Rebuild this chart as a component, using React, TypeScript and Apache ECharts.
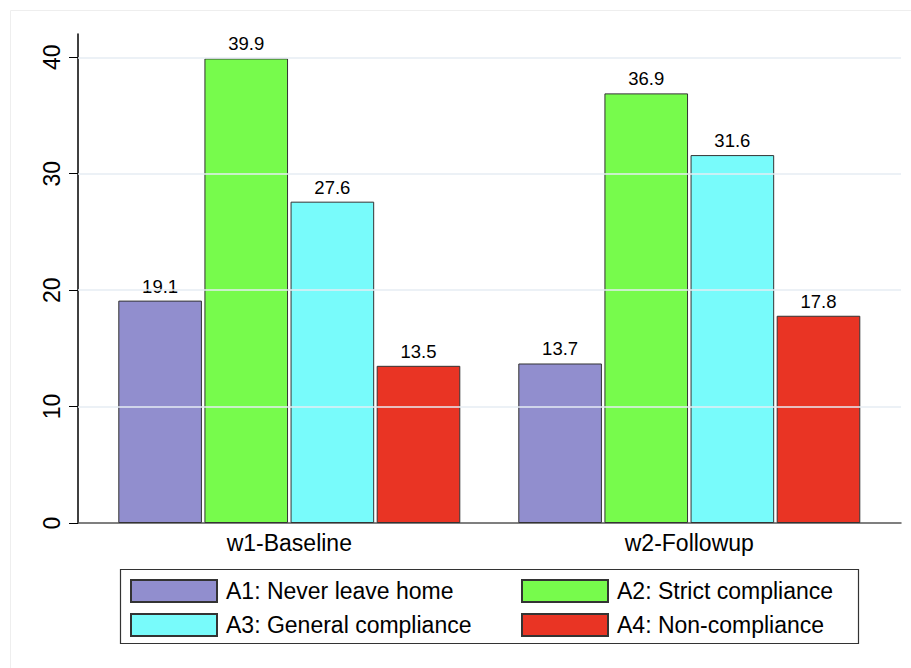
import React, { useEffect, useRef } from "react";
import * as echarts from "echarts";

const categories = ["w1-Baseline", "w2-Followup"];
const seriesNames = [
  "A1: Never leave home",
  "A2: Strict compliance",
  "A3: General compliance",
  "A4: Non-compliance",
];
const a1 = [19.1, 13.7];
const a2 = [39.9, 36.9];
const a3 = [27.6, 31.6];
const a4 = [13.5, 17.8];
const yTicks = [0, 10, 20, 30, 40];
const colors = ["#918ECE", "#77FB4C", "#78FBFB", "#E93424"];

const FONT = "'Liberation Sans', Arial, Helvetica, sans-serif";

export default function App() {
  const ref = useRef<HTMLDivElement>(null);
  useEffect(() => {
    if (!ref.current) return;
    const chart = echarts.init(ref.current, null, { renderer: "svg" });
    const values = [a1, a2, a3, a4];
    chart.setOption({
      animation: false,
      backgroundColor: "#ffffff",
      textStyle: { fontFamily: FONT },
      grid: [
        { left: 78, right: 10, top: 34, bottom: 145 },
        { left: 89.3, right: 21.7, top: 34, bottom: 145 },
      ],
      xAxis: [
        {
          type: "category",
          gridIndex: 0,
          data: [""],
          axisLine: { show: true, lineStyle: { color: "#555555", width: 1.5 } },
          axisTick: { show: false },
          axisLabel: { show: false },
          splitLine: { show: false },
        },
        {
          type: "category",
          gridIndex: 1,
          data: categories,
          axisLine: { show: false },
          axisTick: { show: false },
          axisLabel: { fontSize: 23, color: "#000000", margin: 8, fontFamily: FONT },
        },
      ],
      yAxis: [
        {
          type: "value",
          gridIndex: 0,
          min: 0,
          max: 42,
          interval: 10,
          axisLine: { show: true, lineStyle: { color: "#000000", width: 1.5 } },
          axisTick: {
            show: true,
            length: 9,
            customValues: yTicks,
            lineStyle: { color: "#000000", width: 1 },
          },
          axisLabel: {
            customValues: yTicks,
            rotate: 90,
            fontSize: 23,
            color: "#000000",
            margin: 15,
            fontFamily: FONT,
          },
          splitLine: { show: false },
        },
        {
          type: "value",
          gridIndex: 1,
          min: 0,
          max: 42,
          show: false,
        },
      ],
      legend: [
        {
          orient: "vertical",
          left: 130,
          top: 579,
          itemWidth: 86,
          itemHeight: 22,
          itemGap: 10,
          icon: "rect",
          data: [seriesNames[0], seriesNames[2]],
          textStyle: { fontSize: 23, color: "#000000", fontFamily: FONT, padding: [0, 0, 0, 4] },
          padding: 0,
        },
        {
          orient: "vertical",
          left: 521,
          top: 579,
          itemWidth: 86,
          itemHeight: 22,
          itemGap: 10,
          icon: "rect",
          data: [seriesNames[1], seriesNames[3]],
          textStyle: { fontSize: 23, color: "#000000", fontFamily: FONT, padding: [0, 0, 0, 4] },
          padding: 0,
        },
      ],
      graphic: [
        {
          type: "rect",
          silent: true,
          shape: { x: 10.5, y: 10.5, width: 960, height: 720 },
          style: { fill: "none", stroke: "#eeeeee", lineWidth: 1 },
        },
        {
          type: "rect",
          silent: true,
          shape: { x: 120.5, y: 569.5, width: 738, height: 74 },
          style: { fill: "none", stroke: "#333333", lineWidth: 1.2 },
        },
      ],
      series: [
        {
          type: "line",
          xAxisIndex: 0,
          yAxisIndex: 0,
          data: [],
          silent: true,
          markLine: {
            silent: true,
            symbol: "none",
            label: { show: false },
            lineStyle: { color: "#e6edf3", width: 1.5, type: "solid" },
            data: yTicks.filter((v) => v > 0).map((v) => ({ yAxis: v })),
          },
        },
        ...seriesNames.map((name, i) => ({
          name,
          type: "bar",
          xAxisIndex: 1,
          yAxisIndex: 1,
          data: values[i],
          barGap: "3%",
          barCategoryGap: "14.5%",
          itemStyle: { color: colors[i], borderColor: "#333333", borderWidth: 1 },
          label: {
            show: true,
            position: "top",
            distance: 5,
            fontSize: 18.5,
            color: "#000000",
            fontFamily: FONT,
            formatter: (p: any) => p.value.toFixed(1),
          },
        })),
      ],
    });
    return () => chart.dispose();
  }, []);
  return (
    <div
      ref={ref}
      style={{ position: "fixed", left: 0, top: 0, width: 911, height: 668 }}
    />
  );
}
